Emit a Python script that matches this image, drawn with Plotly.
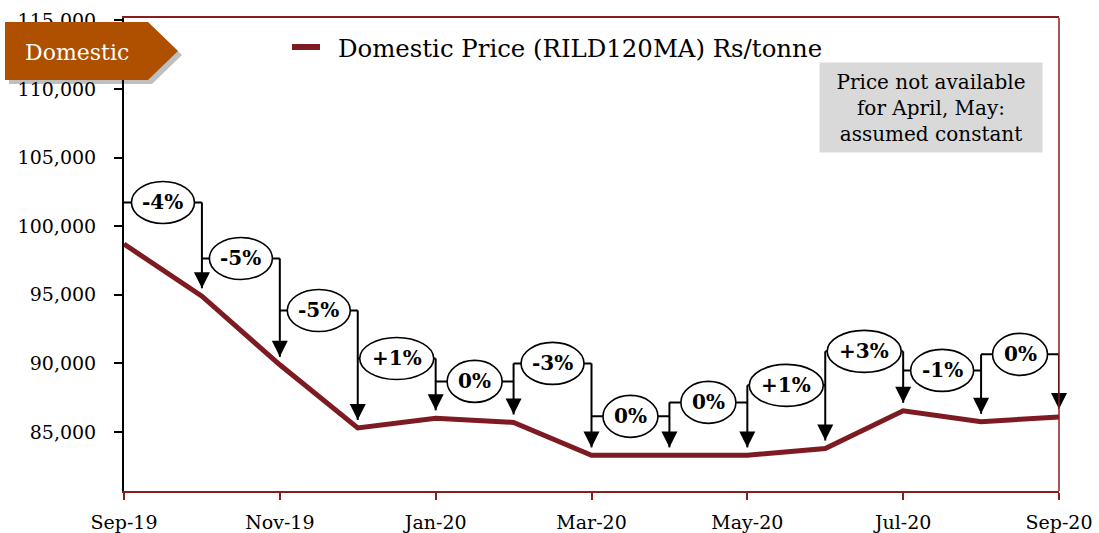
import plotly.graph_objects as go

# ---- data -------------------------------------------------------------
months = ["Sep-19", "Oct-19", "Nov-19", "Dec-19", "Jan-20", "Feb-20", "Mar-20",
          "Apr-20", "May-20", "Jun-20", "Jul-20", "Aug-20", "Sep-20"]
price = [98700, 94900, 89900, 85300, 86000, 85700, 83300,
         83300, 83300, 83800, 86550, 85750, 86100]
y_ticks = [85000, 90000, 95000, 100000, 105000, 110000, 115000]
series_name = "Domestic Price (RILD120MA) Rs/tonne"

# height (in Rs/tonne) at which each month-on-month bubble sits
bubble_level = [101735, 97650, 93860, 90360, 88690, 90000,
                86140, 87160, 88400, 90880, 89490, 90660]

# ---- layout constants -------------------------------------------------
W, H = 1099, 533
ML, MR, MT, MB = 124, 40, 18, 42
PW, PH = W - ML - MR, H - MT - MB
Y_RANGE = [80700, 115180]
ARROW_GAP = 580          # space between arrow tip and line, in y units
FONT = "DejaVu Serif"
LINE_RED = "#7d1a22"
FRAME_RED = "#8b1c1c"


def px(x, y):
    """Screen pixel -> paper coordinates."""
    return (x - ML) / PW, (H - MB - y) / PH


def pct_label(a, b):
    p = round(100 * (b / a - 1))
    return f"+{p}%" if p > 0 else f"{p}%"


CHAR_W = {"+": 19, "-": 8, "%": 20}


def bubble_width(label):
    return 22 + sum(CHAR_W.get(c, 13) for c in label)


labels = [pct_label(price[i], price[i + 1]) for i in range(len(price) - 1)]
x_idx = list(range(len(months)))

fig = go.Figure()

# bracket connectors: horizontal run at each bubble level plus vertical shafts
cx, cy = [], []
for i, lvl in enumerate(bubble_level):
    cx += [i, i + 1, None]
    cy += [lvl, lvl, None]
for j in range(1, len(price)):
    top = bubble_level[j - 1]
    if j < len(bubble_level):
        top = max(top, bubble_level[j])
    cx += [j, j, None]
    cy += [top, price[j] + ARROW_GAP, None]

fig.add_trace(go.Scatter(x=cx, y=cy, mode="lines", cliponaxis=False,
                         line=dict(color="black", width=2),
                         hoverinfo="skip", showlegend=False))

fig.add_trace(go.Scatter(x=x_idx[1:], y=[p + ARROW_GAP for p in price[1:]],
                         mode="markers", cliponaxis=False,
                         marker=dict(symbol="arrow-down", size=16, color="black",
                                     line=dict(width=0)),
                         hoverinfo="skip", showlegend=False))

fig.add_trace(go.Scatter(x=x_idx, y=price, mode="lines", name=series_name,
                         line=dict(color=LINE_RED, width=5), showlegend=False))

shapes = []
annotations = []

# bubbles with change labels
for i, (lvl, lab) in enumerate(zip(bubble_level, labels)):
    w = bubble_width(lab)
    shapes.append(dict(type="circle", xref="x", yref="y",
                       xsizemode="pixel", ysizemode="pixel",
                       xanchor=i + 0.5, yanchor=lvl,
                       x0=-w / 2, x1=w / 2, y0=-21, y1=21,
                       fillcolor="white", line=dict(color="black", width=1.6),
                       layer="above"))
    annotations.append(dict(x=i + 0.5, y=lvl, xref="x", yref="y", text=lab,
                            showarrow=False, xanchor="center", yanchor="middle",
                            font=dict(family=FONT, size=20, color="black",
                                      weight="bold")))

# right-hand frame line
shapes.append(dict(type="line", xref="paper", yref="paper", x0=1, x1=1,
                   y0=0, y1=1, line=dict(color=FRAME_RED, width=1.5),
                   layer="above"))

# legend key
k0x, k0y = px(292, 47)
k1x, _ = px(320, 47)
shapes.append(dict(type="line", xref="paper", yref="paper", x0=k0x, x1=k1x,
                   y0=k0y, y1=k0y, line=dict(color=LINE_RED, width=6),
                   layer="above"))
lx, ly = px(336, 48)
annotations.append(dict(x=lx, y=ly, xref="paper", yref="paper", text=series_name,
                        showarrow=False, xanchor="left", yanchor="middle",
                        font=dict(family=FONT, size=24.4, color="black")))

# "Domestic" tag with drop shadow
tag = [(5, 22), (148, 22), (178, 51), (148, 80), (5, 80)]


def tag_path(dx, dy):
    pts = [px(x + dx, y + dy) for x, y in tag]
    return "M " + " L ".join(f"{a:.5f},{b:.5f}" for a, b in pts) + " Z"


shapes.append(dict(type="path", xref="paper", yref="paper", path=tag_path(4, 4),
                   fillcolor="rgba(0,0,0,0.25)", line=dict(width=0),
                   layer="above"))
shapes.append(dict(type="path", xref="paper", yref="paper", path=tag_path(0, 0),
                   fillcolor="#ae5000", line=dict(width=0), layer="above"))
tx, ty = px(77, 52)
annotations.append(dict(x=tx, y=ty, xref="paper", yref="paper", text="Domestic",
                        showarrow=False, xanchor="center", yanchor="middle",
                        font=dict(family=FONT, size=22, color="white")))

# grey note box
nx, ny = px(931, 107.5)
annotations.append(dict(x=nx, y=ny, xref="paper", yref="paper",
                        text="Price not available<br>for April, May:<br>assumed constant",
                        showarrow=False, xanchor="center", yanchor="middle",
                        bgcolor="#d9d9d9", width=222, height=89, borderpad=0,
                        font=dict(family=FONT, size=20, color="black")))

fig.update_layout(
    width=W, height=H,
    margin=dict(l=ML, r=MR, t=MT, b=MB),
    paper_bgcolor="white", plot_bgcolor="white",
    shapes=shapes, annotations=annotations,
    showlegend=False,
    xaxis=dict(range=[0, 12], tickvals=x_idx[::2], ticktext=months[::2],
               automargin=False, showgrid=False, zeroline=False,
               showline=True, linecolor=FRAME_RED, linewidth=1.5, mirror=True,
               ticks="outside", ticklen=7, tickwidth=2, tickcolor=FRAME_RED,
               ticklabelstandoff=6,
               tickfont=dict(family=FONT, size=19, color="black")),
    yaxis=dict(range=Y_RANGE, tickvals=y_ticks, tickformat=",",
               automargin=False, showgrid=False, zeroline=False,
               showline=True, linecolor="black", linewidth=2,
               ticks="outside", ticklen=8, tickwidth=1.5, tickcolor="black",
               ticklabelstandoff=14,
               tickfont=dict(family=FONT, size=19, color="black")),
)

fig.write_html("out.html")
